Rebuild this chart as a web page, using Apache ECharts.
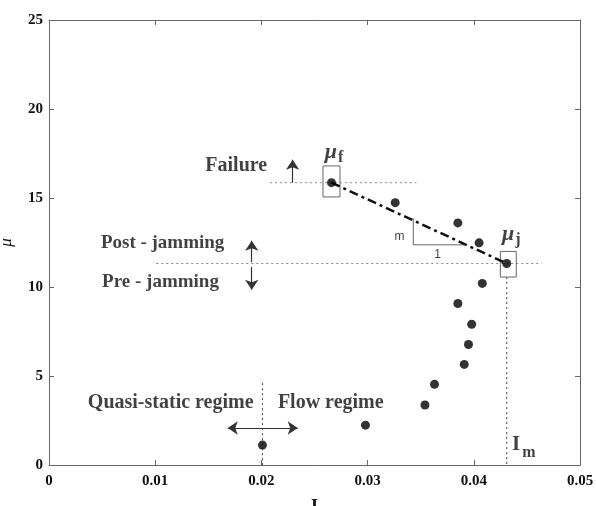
<!DOCTYPE html>
<html>
<head>
<meta charset="utf-8">
<script src="https://cdn.jsdelivr.net/npm/echarts@6/dist/echarts.min.js"></script>
<style>
  html, body { margin: 0; padding: 0; background: #fff; }
  #chart { width: 596px; height: 506px; }
</style>
</head>
<body>
<div id="chart"></div>
<script>
// measured points (I, mu)
const iValues  = [0.0201, 0.0298, 0.0354, 0.0363, 0.0391, 0.0395, 0.0398, 0.0385, 0.0408, 0.0431, 0.0405, 0.0385, 0.0326, 0.0266]
const muValues = [1.12, 2.24, 3.37, 4.53, 5.65, 6.77, 7.91, 9.07, 10.2, 11.32, 12.48, 13.6, 14.74, 15.86]
const xTicks = ['0', '0.01', '0.02', '0.03', '0.04', '0.05']
const yTicks = ['0', '5', '10', '15', '20', '25']

// fitted slope between failure and jamming point
const fitI  = [0.0266, 0.0431]
const fitMu = [15.86, 11.32]

const muF = 15.86
const muJ = 11.32
const iM = 0.0431

const chart = echarts.init(document.getElementById('chart'))

const serif = '"Liberation Serif", "Times New Roman", serif'
const grey = '#666'

function seg(points, style) {
  return {
    type: 'line',
    data: points,
    symbol: 'none',
    silent: true,
    lineStyle: Object.assign({ color: '#888', width: 1 }, style),
    z: 2
  }
}

function box(x1, x2, y1, y2) {
  return seg([[x1, y1], [x2, y1], [x2, y2], [x1, y2], [x1, y1]], { color: '#666', width: 1 })
}

function text(x, y, formatter, rich, extra) {
  return {
    value: [x, y],
    label: Object.assign({
      show: true,
      position: 'inside',
      formatter: formatter,
      rich: rich,
      color: '#111',
      fontFamily: serif,
      fontWeight: 'bold',
      fontSize: 20
    }, extra || {})
  }
}

const rich = {
  mu: { fontFamily: serif, fontStyle: 'italic', fontSize: 22, color: '#111' },
  sub: { fontFamily: serif, fontSize: 16, color: '#111', padding: [10, 0, 0, 1] },
  big: { fontFamily: serif, fontWeight: 'bold', fontSize: 21, color: '#111' },
  subm: { fontFamily: serif, fontWeight: 'bold', fontSize: 16, color: '#111', padding: [16, 0, 0, 2] }
}

const labels = [
  text(0.01763, 16.78, 'Failure'),
  text(0.0107, 12.46, 'Post - jamming', null, { fontSize: 19 }),
  text(0.0105, 10.27, 'Pre - jamming', null, { fontSize: 19 }),
  text(0.01146, 3.48, 'Quasi-static regime'),
  text(0.02653, 3.48, 'Flow regime'),
  text(0.02685, 17.55, '{mu|μ}{sub|f}', rich),
  text(0.04352, 12.95, '{mu|μ}{sub|j}', rich),
  text(0.0447, 1.15, '{big|I}{subm|m}', rich),
  text(0.0330, 12.85, 'm', null, { fontFamily: 'Arial, "Liberation Sans", sans-serif', fontWeight: 'normal', fontSize: 12 }),
  text(0.0366, 11.84, '1', null, { fontFamily: 'Arial, "Liberation Sans", sans-serif', fontWeight: 'normal', fontSize: 12 })
]

const arrowLine = (a, b) => [{ coord: a }, { coord: b }]

const axisCommon = {
  type: 'value',
  axisLine: { show: true, onZero: false, lineStyle: { color: grey, width: 1 } },
  axisTick: { show: true, inside: true, length: 5, lineStyle: { color: grey } },
  splitLine: { show: false }
}

chart.setOption({
  animation: false,
  backgroundColor: '#fff',
  grid: { left: 49, right: 16, top: 20, bottom: 41, containLabel: false, outerBoundsMode: 'none' },
  xAxis: [
    Object.assign({}, axisCommon, {
      min: 0, max: 0.05, interval: 0.01,
      name: 'I',
      nameLocation: 'middle',
      nameGap: 33,
      nameTextStyle: { fontFamily: serif, fontWeight: 'bold', fontSize: 18, color: '#111' },
      axisLabel: {
        margin: 9,
        fontFamily: serif, fontWeight: 'bold', fontSize: 15, color: '#111',
        formatter: (v) => xTicks[Math.round(v / 0.01)]
      }
    }),
    Object.assign({}, axisCommon, {
      position: 'top', min: 0, max: 0.05, interval: 0.01,
      axisLabel: { show: false }
    })
  ],
  yAxis: [
    Object.assign({}, axisCommon, {
      min: 0, max: 25, interval: 5,
      name: 'μ',
      nameLocation: 'middle',
      nameRotate: 90,
      nameGap: 34,
      nameMoveOverlap: false,
      nameTextStyle: { fontFamily: serif, fontStyle: 'italic', fontSize: 17, color: '#111', padding: [14, 0, 0, 0] },
      axisLabel: {
        margin: 6,
        fontFamily: serif, fontWeight: 'bold', fontSize: 15, color: '#111',
        formatter: (v) => yTicks[Math.round(v / 5)]
      }
    }),
    Object.assign({}, axisCommon, {
      position: 'right', min: 0, max: 25, interval: 5,
      axisLabel: { show: false }
    })
  ],
  series: [
    // reference lines
    seg([[0.0208, muF], [0.0346, muF]], { type: [2, 3] }),
    seg([[0.0101, muJ], [0.0464, muJ]], { type: [2, 3] }),
    seg([[iM, 10.56], [iM, 0]], { type: [2, 3], color: '#444' }),
    seg([[0.0201, 4.6], [0.0201, 0]], { type: [2, 3], color: '#444' }),
    // boxes around mu_f and mu_j
    box(0.0258, 0.0274, 15.06, 16.8),
    box(0.0425, 0.0440, 10.56, 12.0),
    // slope triangle
    seg([[0.0343, 13.86], [0.0343, 12.37], [0.0393, 12.37]], { color: '#666' }),
    // fitted dash-dot line
    {
      type: 'line',
      data: fitI.map((x, i) => [x, fitMu[i]]),
      symbol: 'none',
      silent: true,
      lineStyle: { color: '#111', width: 2.5, type: [9, 4, 3, 4] },
      z: 3
    },
    // data points
    {
      type: 'scatter',
      data: iValues.map((x, i) => [x, muValues[i]]),
      symbol: 'circle',
      symbolSize: 9,
      itemStyle: { color: '#000' },
      z: 5
    },
    // arrows
    {
      type: 'line',
      data: [],
      markLine: {
        silent: true,
        symbol: ['none', 'arrow'],
        symbolSize: 10,
        label: { show: false },
        lineStyle: { color: '#333', width: 1.2, type: 'solid' },
        data: [
          arrowLine([0.02294, muF], [0.02294, 17.15]),
          arrowLine([0.01909, 11.39], [0.01909, 12.6]),
          arrowLine([0.01909, 11.13], [0.01909, 9.85]),
          arrowLine([0.0201, 2.08], [0.01683, 2.08]),
          arrowLine([0.0201, 2.08], [0.02342, 2.08])
        ]
      }
    },
    // annotation text
    {
      type: 'scatter',
      data: labels,
      symbolSize: 1,
      itemStyle: { color: 'rgba(0,0,0,0)' },
      silent: true,
      z: 6
    }
  ]
})
</script>
</body>
</html>
